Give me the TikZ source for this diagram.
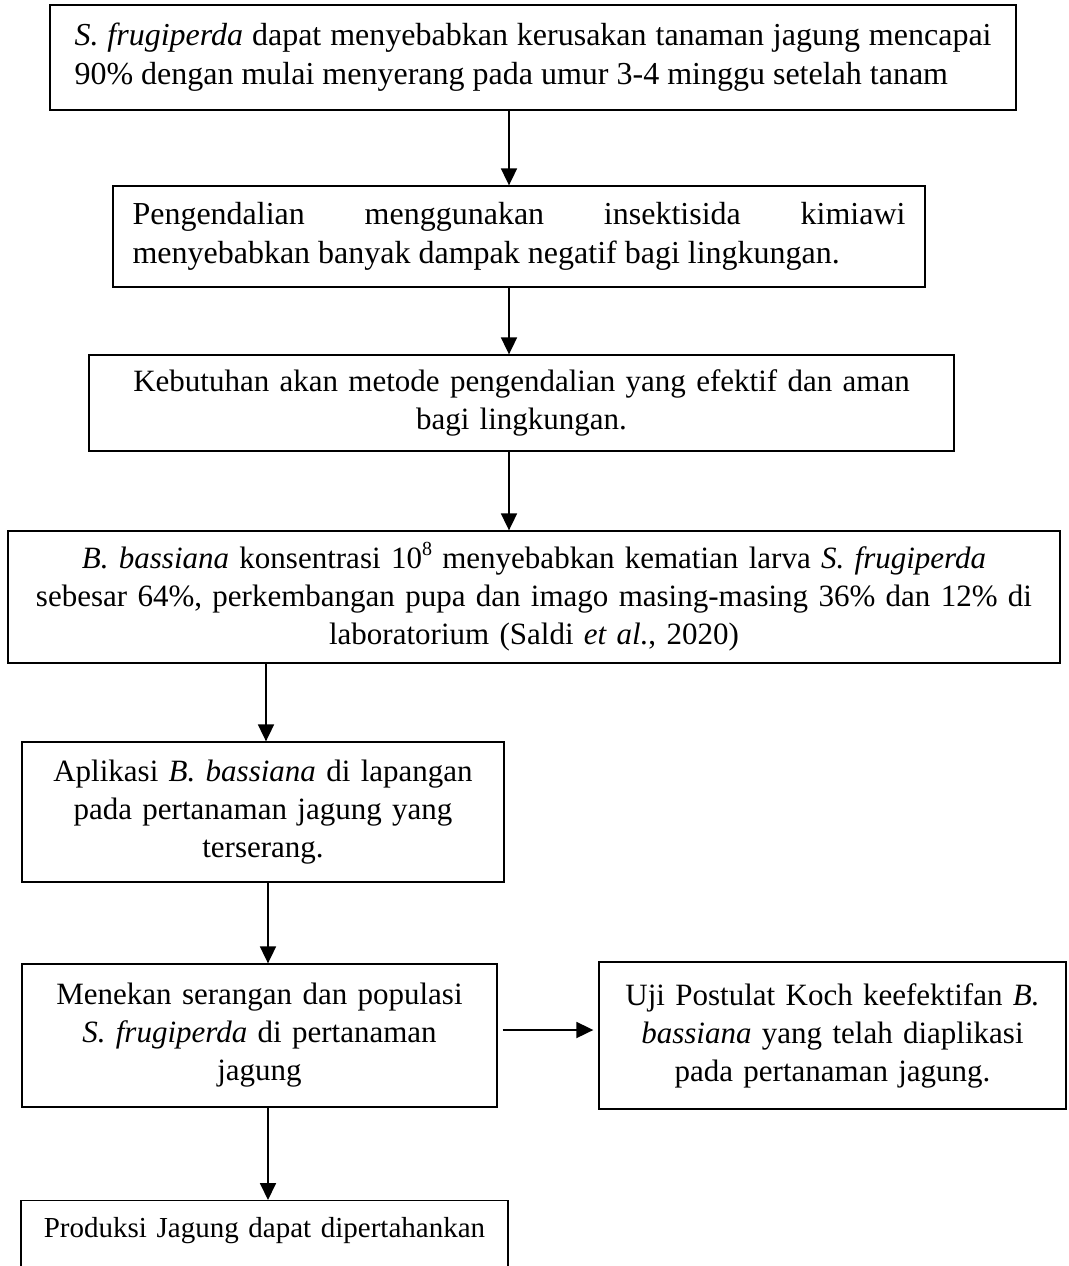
\documentclass[tikz,border=0pt]{standalone}
\usepackage{fontspec}
\setmainfont{Liberation Serif}
\usetikzlibrary{arrows.meta}

\newcommand{\supnum}[1]{\raisebox{0.42em}{\fontsize{20}{20}\selectfont #1}}

\tikzset{
    box/.style={draw=borderColour, line width=1.3pt, inner sep=0pt, align=center,
        font=\fontsize{31}{38}\selectfont},
    wide box/.style={box, align=justify, font=\fontsize{32}{39}\selectfont},
    arrow/.style={draw=borderColour, line width=1.8pt, -{Triangle[width=16pt,length=17pt]}},
}

\begin{document}
\begin{tikzpicture}[x=1pt, y=-1pt]
    \definecolor{borderColour}{HTML}{000000}

    % Page frame
    \useasboundingbox (0,0) rectangle (1068,1266);

    % Main chain of boxes
    \node[wide box, text width=917pt, inner xsep=24.5pt, minimum height=105pt] (serangan) at (533,57.5)
        {\textit{S. frugiperda} dapat menyebabkan kerusakan tanaman jagung mencapai\linebreak
         90\% dengan mulai menyerang pada umur 3-4 minggu setelah tanam};
    \node[wide box, text width=773pt, inner xsep=19.5pt, minimum height=101pt] (kimiawi) at (519,236.5)
        {Pengendalian menggunakan insektisida kimiawi\linebreak
         menyebabkan banyak dampak negatif bagi lingkungan.};
    \node[box, text width=865pt, minimum height=96pt] (kebutuhan) at (521.5,403)
        {Kebutuhan akan metode pengendalian yang efektif dan aman\\ bagi lingkungan.};
    \node[box, text width=1052pt, minimum height=132pt] (bassiana) at (534,597)
        {\textit{B. bassiana} konsentrasi 10\supnum{8} menyebabkan kematian larva \textit{S. frugiperda}\\
         sebesar 64\%, perkembangan pupa dan imago masing-masing 36\% dan 12\% di\\
         laboratorium (Saldi \textit{et al.}, 2020)};
    \node[box, text width=482pt, minimum height=140pt] (aplikasi) at (263,812)
        {Aplikasi \textit{B. bassiana} di lapangan\\ pada pertanaman jagung yang\\ terserang.};
    \node[box, text width=475pt, minimum height=143pt] (menekan) at (259.5,1035.5)
        {Menekan serangan dan populasi\\ \textit{S. frugiperda} di pertanaman\\ jagung};
    \node[box, text width=467pt, minimum height=147pt] (koch) at (832.5,1035.5)
        {Uji Postulat Koch keefektifan \textit{B.}\\ \textit{bassiana} yang telah diaplikasi\\ pada pertanaman jagung.};
    \node[box, anchor=north, text width=487pt, inner ysep=17pt, text depth=60pt,
        font=\fontsize{29}{35}\selectfont] (produksi) at (264.5,1200)
        {Produksi Jagung dapat dipertahankan};

    % Draw arrows
    \draw[arrow] (serangan.south -| 509,0) -- (kimiawi.north -| 509,0);
    \draw[arrow] (kimiawi.south -| 509,0) -- (kebutuhan.north -| 509,0);
    \draw[arrow] (kebutuhan.south -| 509,0) -- (bassiana.north -| 509,0);
    \draw[arrow] (bassiana.south -| 266,0) -- (aplikasi.north -| 266,0);
    \draw[arrow] (aplikasi.south -| 268,0) -- (menekan.north -| 268,0);
    \draw[arrow] (menekan.south -| 268,0) -- (produksi.north -| 268,0);
    \draw[arrow, shorten <=5pt, shorten >=5pt] ([yshift=5.5pt]menekan.east) -- ([yshift=5.5pt]koch.west);

\end{tikzpicture}
\end{document}
